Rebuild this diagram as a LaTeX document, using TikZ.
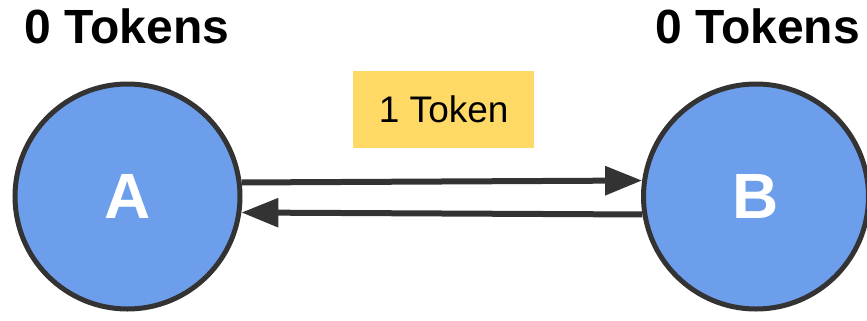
\documentclass[tikz,border=0pt]{standalone}
\usepackage{fontspec}
\setmainfont{Liberation Sans}
\usetikzlibrary{arrows.meta}
\definecolor{nodeblue}{HTML}{6D9EEB}
\definecolor{edgegrey}{HTML}{333333}
\definecolor{tokenyellow}{HTML}{FFD966}
\tikzset{
  peer/.style={circle, draw=edgegrey, line width=5bp, fill=nodeblue,
    minimum size=225bp, inner sep=0pt, text=white,
    font=\bfseries\fontsize{64bp}{64bp}\selectfont},
  count/.style={anchor=base, font=\bfseries\fontsize{48bp}{48bp}\selectfont},
  tokenbox/.style={fill=tokenyellow, minimum width=180.7bp, minimum height=76.7bp,
    inner sep=0pt, font=\fontsize{37bp}{37bp}\selectfont},
  link/.style={draw=edgegrey, line width=6bp,
    -{Triangle[length=37bp,width=28bp]}}
}
\begin{document}
\begin{tikzpicture}[x=1bp,y=-1bp]
  \useasboundingbox (0,0) rectangle (867,320);
  \node[peer] (A) at (127.5,196.5) {A};
  \node[peer] (B) at (756,196.5) {B};
  \node[count] (ca) at (127,43) {0 Tokens};
  \node[count] (cb) at (757.5,43) {0 Tokens};
  \node[tokenbox] (tok) at (443.7,109.3) {1 Token};
  \draw[link] (A.7.75) -- (B.172.25);
  \draw[link] (B.-171.25) -- (A.-8.75);
\end{tikzpicture}
\end{document}
